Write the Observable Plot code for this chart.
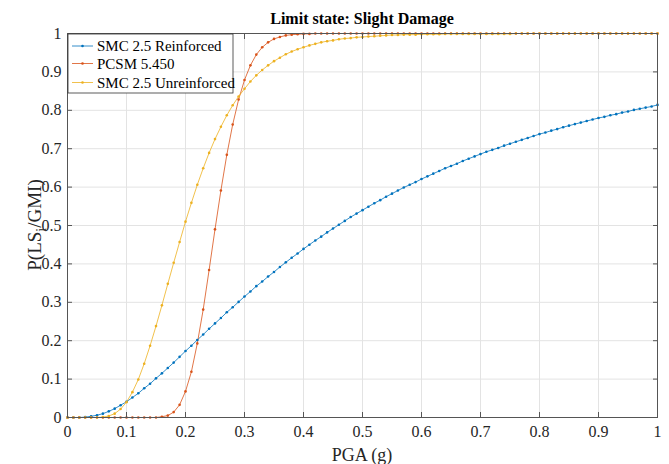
<!DOCTYPE html>
<html>
<head>
<meta charset="utf-8">
<script src="https://cdn.jsdelivr.net/npm/d3@7"></script>
<script src="https://cdn.jsdelivr.net/npm/@observablehq/plot@0.6"></script>
<style>
html, body { margin: 0; padding: 0; background: #fff; }
#chart { position: relative; width: 669px; height: 464px; }
</style>
</head>
<body>
<div id="chart"></div>
<script>
// ---- data ----
const titleText = "Limit state: Slight Damage";
const xLabel = "PGA (g)";
const seriesNames = ["SMC 2.5 Reinforced", "PCSM 5.450", "SMC 2.5 Unreinforced"];

const pga = [
  0.00, 0.01, 0.02, 0.03, 0.04, 0.05, 0.06, 0.07, 0.08, 0.09,
  0.10, 0.11, 0.12, 0.13, 0.14, 0.15, 0.16, 0.17, 0.18, 0.19,
  0.20, 0.21, 0.22, 0.23, 0.24, 0.25, 0.26, 0.27, 0.28, 0.29,
  0.30, 0.31, 0.32, 0.33, 0.34, 0.35, 0.36, 0.37, 0.38, 0.39,
  0.40, 0.41, 0.42, 0.43, 0.44, 0.45, 0.46, 0.47, 0.48, 0.49,
  0.50, 0.51, 0.52, 0.53, 0.54, 0.55, 0.56, 0.57, 0.58, 0.59,
  0.60, 0.61, 0.62, 0.63, 0.64, 0.65, 0.66, 0.67, 0.68, 0.69,
  0.70, 0.71, 0.72, 0.73, 0.74, 0.75, 0.76, 0.77, 0.78, 0.79,
  0.80, 0.81, 0.82, 0.83, 0.84, 0.85, 0.86, 0.87, 0.88, 0.89,
  0.90, 0.91, 0.92, 0.93, 0.94, 0.95, 0.96, 0.97, 0.98, 0.99,
  1.00
];

const smcReinforced = [
  0, 0, 0, 0.001, 0.003, 0.006, 0.010, 0.016, 0.023, 0.032,
  0.041, 0.052, 0.063, 0.076, 0.088, 0.102, 0.115, 0.129, 0.143, 0.158,
  0.173, 0.187, 0.202, 0.216, 0.231, 0.245, 0.259, 0.274, 0.287, 0.301,
  0.315, 0.328, 0.342, 0.354, 0.367, 0.379, 0.392, 0.404, 0.416, 0.427,
  0.439, 0.450, 0.461, 0.471, 0.482, 0.492, 0.502, 0.512, 0.522, 0.531,
  0.540, 0.549, 0.558, 0.566, 0.575, 0.583, 0.591, 0.599, 0.606, 0.613,
  0.621, 0.628, 0.635, 0.642, 0.649, 0.655, 0.661, 0.668, 0.674, 0.680,
  0.686, 0.692, 0.697, 0.702, 0.708, 0.713, 0.718, 0.723, 0.728, 0.733,
  0.738, 0.742, 0.747, 0.751, 0.756, 0.760, 0.764, 0.768, 0.772, 0.776,
  0.780, 0.783, 0.787, 0.790, 0.794, 0.797, 0.801, 0.804, 0.807, 0.810,
  0.814
];

const pcsm = [
  0, 0, 0, 0, 0, 0, 0, 0, 0, 0,
  0, 0, 0, 0, 0, 0, 0.002, 0.005, 0.014, 0.033,
  0.068, 0.119, 0.193, 0.281, 0.384, 0.490, 0.591, 0.684, 0.763, 0.828,
  0.879, 0.917, 0.945, 0.964, 0.977, 0.986, 0.991, 0.995, 0.997, 0.998,
  0.999, 0.999, 1, 1, 1, 1, 1, 1, 1, 1,
  1, 1, 1, 1, 1, 1, 1, 1, 1, 1,
  1, 1, 1, 1, 1, 1, 1, 1, 1, 1,
  1, 1, 1, 1, 1, 1, 1, 1, 1, 1,
  1, 1, 1, 1, 1, 1, 1, 1, 1, 1,
  1, 1, 1, 1, 1, 1, 1, 1, 1, 1,
  1
];

const smcUnreinforced = [
  0, 0, 0, 0, 0, 0, 0.001, 0.004, 0.010, 0.022,
  0.040, 0.066, 0.099, 0.140, 0.187, 0.238, 0.292, 0.348, 0.403, 0.457,
  0.510, 0.559, 0.606, 0.649, 0.689, 0.725, 0.757, 0.787, 0.813, 0.836,
  0.856, 0.875, 0.891, 0.905, 0.917, 0.928, 0.937, 0.946, 0.953, 0.959,
  0.964, 0.969, 0.973, 0.977, 0.980, 0.982, 0.985, 0.987, 0.988, 0.990,
  0.991, 0.992, 0.993, 0.994, 0.995, 0.996, 0.996, 0.997, 0.997, 0.997,
  0.998, 0.998, 0.998, 0.998, 0.999, 0.999, 0.999, 0.999, 0.999, 0.999,
  0.999, 0.999, 0.999, 0.999, 0.999, 0.999, 1, 1, 1, 1,
  1, 1, 1, 1, 1, 1, 1, 1, 1, 1,
  1, 1, 1, 1, 1, 1, 1, 1, 1, 1,
  1
];

const xTicks = [0, 0.1, 0.2, 0.3, 0.4, 0.5, 0.6, 0.7, 0.8, 0.9, 1];
const yTicks = [0, 0.1, 0.2, 0.3, 0.4, 0.5, 0.6, 0.7, 0.8, 0.9, 1];

// ---- styles ----
const colors = ["#0072BD", "#D95319", "#EDB120"];
const axisColor = "#555555";
const gridColor = "#e3e3e3";
const font = "'Liberation Serif', 'Times New Roman', serif";

// ---- build table ----
const seriesValues = [smcReinforced, pcsm, smcUnreinforced];
const rows = seriesNames.flatMap((name, i) =>
  pga.map((x, j) => ({x, y: seriesValues[i][j], series: name}))
);

const fmt = d3.format("~g");
const blank = () => "";

const plot = Plot.plot({
  width: 669,
  height: 464,
  marginLeft: 67,
  marginRight: 12,
  marginTop: 33,
  marginBottom: 47,
  style: {fontFamily: font, fontSize: "16px", color: "#262626", background: "#fff", overflow: "visible"},
  x: {domain: [0, 1], label: null},
  y: {domain: [0, 1], label: null},
  color: {domain: seriesNames, range: colors},
  marks: [
    Plot.gridX(xTicks, {stroke: gridColor, strokeOpacity: 1}),
    Plot.gridY(yTicks, {stroke: gridColor, strokeOpacity: 1}),
    Plot.line(rows, {x: "x", y: "y", z: "series", stroke: "series", strokeWidth: 0.8}),
    Plot.dot(rows, {x: "x", y: "y", fill: "series", r: 1.3}),
    Plot.frame({stroke: axisColor, strokeWidth: 1}),
    Plot.axisX(xTicks, {tickSize: 0, tickPadding: 8, tickFormat: fmt, label: null, fontSize: 16, fontFamily: font}),
    Plot.axisX(xTicks, {tickSize: -5, tickFormat: blank, label: null, stroke: axisColor}),
    Plot.axisX(xTicks, {anchor: "top", tickSize: -5, tickFormat: blank, label: null, stroke: axisColor}),
    Plot.axisY(yTicks, {tickSize: 0, tickPadding: 6, tickFormat: fmt, label: null, fontSize: 16, fontFamily: font}),
    Plot.axisY(yTicks, {tickSize: -5, tickFormat: blank, label: null, stroke: axisColor}),
    Plot.axisY(yTicks, {anchor: "right", tickSize: -5, tickFormat: blank, label: null, stroke: axisColor})
  ]
});

document.getElementById("chart").appendChild(plot);

// ---- annotations: title, axis labels, legend ----
const svg = d3.select(plot);
const xs = plot.scale("x"), ys = plot.scale("y");
const cx = (xs.range[0] + xs.range[1]) / 2;
const cy = (ys.range[0] + ys.range[1]) / 2;

svg.append("text")
  .attr("x", cx).attr("y", 24)
  .attr("text-anchor", "middle")
  .attr("font-family", font).attr("font-size", 16).attr("font-weight", "bold")
  .attr("fill", "#000")
  .text(titleText);

svg.append("text")
  .attr("x", cx).attr("y", 461)
  .attr("text-anchor", "middle")
  .attr("font-family", font).attr("font-size", 18)
  .attr("fill", "#262626")
  .text(xLabel);

const yl = svg.append("text")
  .attr("transform", `translate(41,${cy}) rotate(-90)`)
  .attr("text-anchor", "middle")
  .attr("font-family", font).attr("font-size", 19)
  .attr("fill", "#262626");
yl.append("tspan").text("P(LS");
yl.append("tspan").attr("dy", 5).attr("font-size", 14).text("i");
yl.append("tspan").attr("dy", -5).text("/GMI)");

// legend
const lg = svg.append("g").attr("transform", "translate(68,34)");
lg.append("rect")
  .attr("width", 165).attr("height", 59)
  .attr("fill", "#fff").attr("stroke", "#333").attr("stroke-width", 0.8);
const rowY = [12, 29.5, 48.5];
seriesNames.forEach((name, i) => {
  const g = lg.append("g").attr("transform", `translate(0,${rowY[i]})`);
  g.append("line").attr("x1", 4).attr("x2", 25).attr("y1", 0).attr("y2", 0)
    .attr("stroke", colors[i]).attr("stroke-width", 0.8);
  g.append("circle").attr("cx", 14.5).attr("cy", 0).attr("r", 1.3).attr("fill", colors[i]);
  g.append("text").attr("x", 29).attr("y", 5)
    .attr("text-anchor", "start")
    .attr("font-family", font).attr("font-size", 15).attr("fill", "#000")
    .text(name);
});
</script>
</body>
</html>
